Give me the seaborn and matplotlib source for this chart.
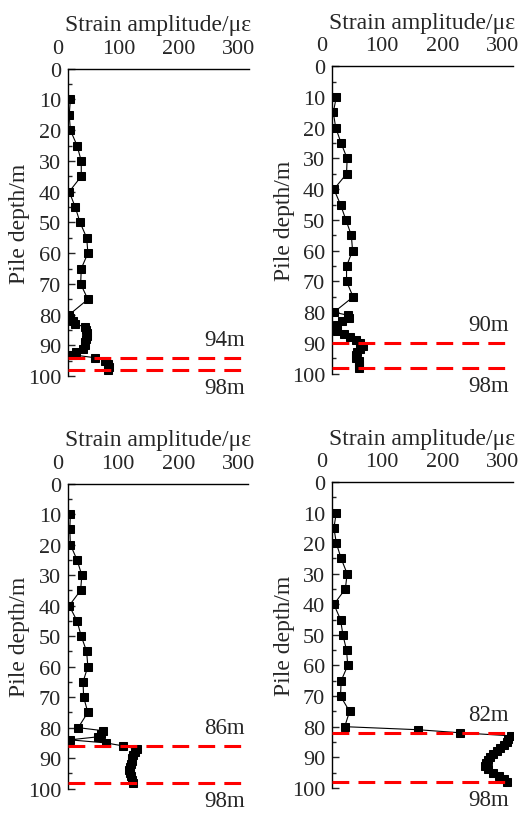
import matplotlib
matplotlib.use("Agg")
import matplotlib.pyplot as plt
import matplotlib.transforms as mtransforms
import seaborn as sns
import pandas as pd

# depth points (m): every 5 m down to 80, then every metre to 98
DEPTHS = [10, 15, 20, 25, 30, 35, 40, 45, 50, 55, 60, 65, 70, 75, 80,
          81, 82, 83, 84, 85, 86, 87, 88, 89, 90, 91, 92, 93, 94, 95, 96, 97, 98]

STRAIN_94 = [4, 2, 4, 15, 22, 22, 2, 12, 20, 31, 33, 22, 21, 33, 2,
             3, 8, 12, 28, 30, 31, 31, 30, 28, 28, 25, 14, 6, 45, 62, 66, 68, 66]
STRAIN_90 = [7, 2, 6, 15, 25, 24, 3, 14, 23, 32, 34, 24, 24, 35, 3,
             27, 28, 17, 8, 4, 8, 19, 29, 39, 47, 52, 46, 42, 40, 40, 44, 45, 44]
STRAIN_86 = [4, 3, 4, 15, 23, 21, 2, 15, 22, 31, 33, 25, 26, 33, 17,
             58, 55, 50, 3, 63, 92, 114, 111, 108, 107, 106, 104, 103, 102, 103, 105, 107, 108]
STRAIN_82 = [7, 3, 7, 15, 25, 22, 3, 14, 18, 24, 26, 15, 14, 29, 21,
             143, 213, 298, 293, 290, 285, 279, 274, 268, 263, 260, 256, 255, 260, 268, 277, 285, 290]

PANELS = [
    (STRAIN_94, 94, [0.130, 0.540, 0.346, 0.375]),
    (STRAIN_90, 90, [0.635, 0.543, 0.345, 0.375]),
    (STRAIN_86, 86, [0.130, 0.037, 0.345, 0.372]),
    (STRAIN_82, 82, [0.635, 0.038, 0.345, 0.373]),
]

sns.set_style("ticks")
plt.rcParams['font.family'] = ['Liberation Serif', 'DejaVu Serif']

fig = plt.figure(figsize=(5.23, 8.2), dpi=100)
# the top tick labels sit a little left of their ticks in the original
shift_left = mtransforms.ScaledTranslation(-0.10, 0, fig.dpi_scale_trans)

for strain, top_depth, rect in PANELS:
    ax = fig.add_axes(rect)
    df = pd.DataFrame({"depth": DEPTHS, "strain": strain})
    sns.lineplot(data=df, x="strain", y="depth", sort=False, estimator=None,
                 color="black", linewidth=0.8, marker="s", markersize=5.5,
                 markeredgecolor="black", ax=ax)

    # pile section boundaries
    for d in (top_depth, 98):
        ax.axhline(d, color="red", linestyle=(0, (5.5, 3)), linewidth=2.2, zorder=3)
    ax.text(294, top_depth - 4.2, f"{top_depth}m", ha="right", va="baseline", fontsize=16.5)
    ax.text(294, 100.3, "98m", ha="right", va="top", fontsize=16.5, clip_on=False)

    ax.set_xlim(0, 300)
    ax.set_ylim(100, 0)
    ax.set_xticks([0, 100, 200, 300])
    ax.set_xticks([50, 150, 250], minor=True)
    ax.set_yticks(range(0, 101, 10))
    ax.set_yticks(range(5, 100, 10), minor=True)
    ax.xaxis.tick_top()
    ax.xaxis.set_label_position("top")
    ax.tick_params(which="both", direction="in", labelsize=16, width=1)
    ax.tick_params(axis="x", pad=8)
    ax.tick_params(axis="y", pad=5)
    ax.tick_params(which="major", length=5)
    ax.tick_params(which="minor", length=3)
    ax.set_xlabel("Strain amplitude/με", fontsize=17, labelpad=6)
    ax.set_ylabel("Pile depth/m", fontsize=17, labelpad=-2)
    sns.despine(ax=ax, top=False, right=True, bottom=True, left=False)
    for s in ("top", "left"):
        ax.spines[s].set_color("black")
        ax.spines[s].set_linewidth(1)
    for lab in ax.get_xticklabels():
        lab.set_transform(lab.get_transform() + shift_left)

fig.savefig("out.png", dpi=100)
